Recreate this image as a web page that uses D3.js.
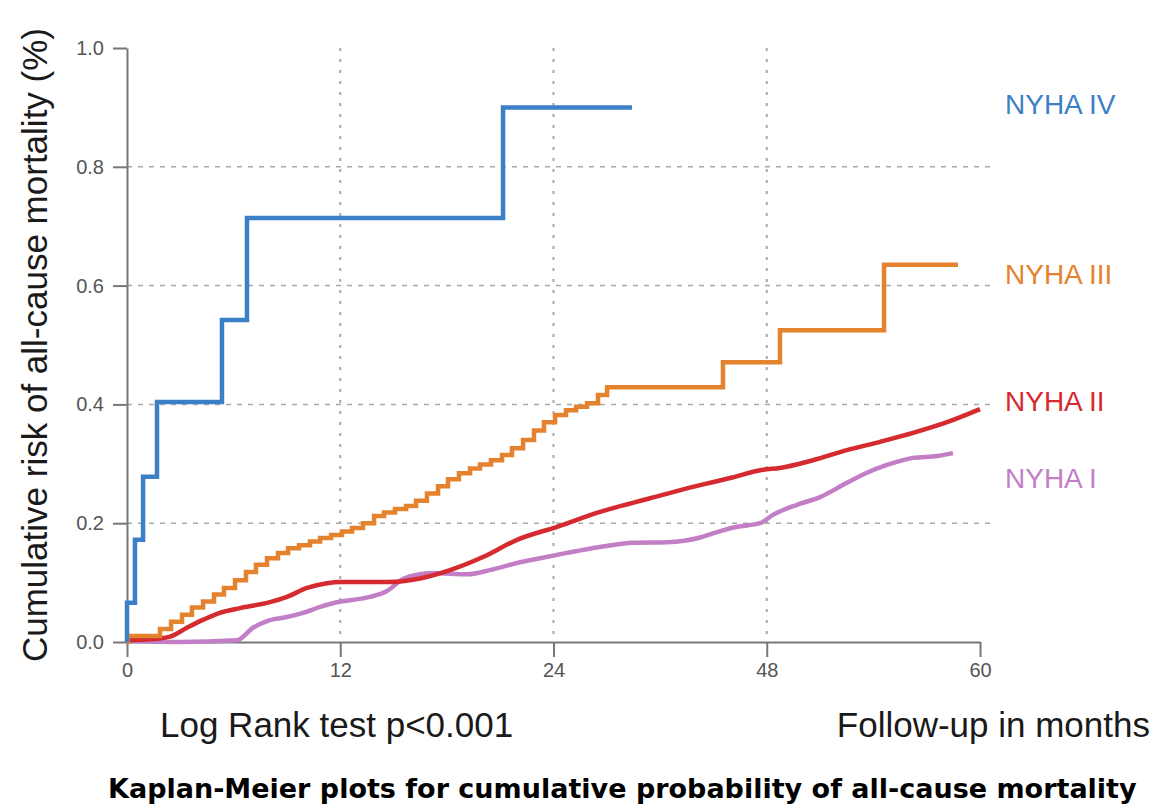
<!DOCTYPE html>
<html>
<head>
<meta charset="utf-8">
<script src="https://cdn.jsdelivr.net/npm/d3@7"></script>
<style>
  body { margin: 0; background: #fff; }
  svg { font-family: "Liberation Sans", Arial, sans-serif; }
</style>
</head>
<body>
<div id="chart"></div>
<script>
// x positions are in axis units: the five ticks sit evenly at 0,15,30,45,60
// and carry the printed labels 0,12,24,48,60 of the original figure
const xTickValues = [0, 15, 30, 45, 60]
const xTickLabels = ["0", "12", "24", "48", "60"]
const yTickValues = [0, 0.2, 0.4, 0.6, 0.8, 1.0]
const gridY = [0.2, 0.4, 0.6, 0.8]
const gridX = [15, 30, 45]

const seriesNames = ["NYHA IV", "NYHA III", "NYHA II", "NYHA I"]
const seriesColors = ["#3b80c6", "#e5822d", "#d52a2f", "#c27fc6"]

// NYHA IV: step function
const nyha4Time = [0, 0, 0.56, 1.13, 2.11, 6.68, 8.44, 26.45, 35.52]
const nyha4Risk = [0, 0.066, 0.172, 0.278, 0.404, 0.542, 0.714, 0.9, 0.9]

// NYHA III: step function with many small steps
const nyha3Time = [0, 0.05, 2.32, 3.10, 3.87, 4.57, 5.35, 6.12, 6.82, 7.60, 8.37, 9.07, 9.85,
  10.62, 11.33, 12.10, 12.87, 13.58, 14.35, 15.12, 15.83, 16.60, 17.38, 18.08, 18.85,
  19.63, 20.33, 21.10, 21.88, 22.58, 23.35, 24.13, 24.83, 25.60, 26.38, 27.08, 27.86,
  28.63, 29.33, 30.11, 30.88, 31.59, 32.36, 33.13, 33.77, 41.92, 45.93, 53.25, 58.45]
const nyha3Risk = [0, 0.010, 0.022, 0.034, 0.046, 0.058, 0.068, 0.080, 0.091, 0.104, 0.118, 0.130, 0.141,
  0.150, 0.158, 0.163, 0.169, 0.175, 0.180, 0.186, 0.192, 0.200, 0.212, 0.218, 0.224,
  0.229, 0.238, 0.250, 0.262, 0.274, 0.284, 0.292, 0.299, 0.306, 0.315, 0.326, 0.340,
  0.356, 0.370, 0.382, 0.390, 0.396, 0.402, 0.416, 0.429, 0.471, 0.525, 0.635, 0.635]

// NYHA II: smooth
const nyha2Time = [0, 2.32, 3.02, 4.22, 5.42, 6.54, 7.95, 10.06, 11.25, 12.66, 14.07, 14.98,
  18.29, 20.61, 22.72, 25.04, 27.43, 30.25, 33.27, 36.79, 40.31, 42.42, 44.74, 45.93,
  48.25, 50.64, 52.97, 55.29, 57.68, 60]
const nyha2Risk = [0.003, 0.006, 0.009, 0.024, 0.038, 0.049, 0.057, 0.067, 0.076, 0.091, 0.099, 0.101,
  0.101, 0.107, 0.121, 0.143, 0.172, 0.194, 0.219, 0.242, 0.264, 0.276, 0.290, 0.293,
  0.306, 0.323, 0.337, 0.352, 0.370, 0.392]

// NYHA I: smooth
const nyha1Time = [0, 3.73, 7.74, 8.86, 10.06, 11.25, 12.38, 13.58, 14.77, 15.90, 17.09, 18.29,
  19.41, 20.61, 21.52, 23.92, 25.53, 27.43, 29.05, 30.95, 33.27, 35.59, 37.98, 40.31,
  41.22, 42.91, 44.53, 45.44, 47.13, 48.75, 50.64, 52.05, 53.46, 55.29, 56.98, 58.10]
const nyha1Risk = [0.002, 0.000, 0.003, 0.024, 0.037, 0.042, 0.049, 0.059, 0.067, 0.071, 0.076, 0.086,
  0.106, 0.114, 0.116, 0.114, 0.121, 0.133, 0.141, 0.150, 0.160, 0.167, 0.168, 0.176,
  0.183, 0.194, 0.200, 0.214, 0.231, 0.244, 0.268, 0.285, 0.298, 0.310, 0.313, 0.318]

const labelRisk = [0.905, 0.62, 0.405, 0.276]

drawChart("#chart")

function drawChart(id){
  const canvas = { width: 1155, height: 806, left: 127, right: 980, top: 48, bottom: 642 }
  const svg = d3.select(id).append("svg")
    .attr("width", canvas.width).attr("height", canvas.height)

  const x = d3.scaleLinear().domain([0, 60]).range([canvas.left, canvas.right])
  const y = d3.scaleLinear().domain([0, 1]).range([canvas.bottom, canvas.top])

  addGrid(svg, x, y)
  addAxes(svg, x, y)
  addCurves(svg, x, y)
  addTexts(svg, x, y, canvas)
}

function addGrid(svg, x, y){
  svg.append("g").selectAll("line").data(gridY).enter().append("line")
    .attr("x1", x(0)).attr("x2", x(60) + 10)
    .attr("y1", d => y(d)).attr("y2", d => y(d))
    .attr("stroke", "#a8a8a8").attr("stroke-width", 1.5).attr("stroke-dasharray", "5,6")

  svg.append("g").selectAll("line").data(gridX).enter().append("line")
    .attr("x1", d => x(d)).attr("x2", d => x(d))
    .attr("y1", y(1)).attr("y2", y(0))
    .attr("stroke", "#a8a8a8").attr("stroke-width", 2).attr("stroke-dasharray", "3,8")
}

function addAxes(svg, x, y){
  const xAxis = d3.axisBottom(x).tickValues(xTickValues)
    .tickFormat((d, i) => xTickLabels[i]).tickSize(15).tickSizeOuter(0).tickPadding(6)
  const gx = svg.append("g").attr("transform", `translate(0,${y(0)})`).call(xAxis)

  const yAxis = d3.axisLeft(y).tickValues(yTickValues)
    .tickFormat(d3.format(".1f")).tickSize(14).tickSizeOuter(0).tickPadding(9)
  const gy = svg.append("g").attr("transform", `translate(${x(0)},0)`).call(yAxis)

  for (const g of [gx, gy]) {
    g.select(".domain").attr("stroke", "#777").attr("stroke-width", 2)
    g.selectAll(".tick line").attr("stroke", "#777").attr("stroke-width", 2)
    g.selectAll(".tick text").attr("fill", "#555").attr("font-size", "20px")
      .attr("font-family", "Liberation Sans, Arial, sans-serif")
  }
}

function addCurves(svg, x, y){
  const times = [nyha4Time, nyha3Time, nyha2Time, nyha1Time]
  const risks = [nyha4Risk, nyha3Risk, nyha2Risk, nyha1Risk]
  const curves = [d3.curveStepAfter, d3.curveStepAfter, d3.curveMonotoneX, d3.curveMonotoneX]

  // draw NYHA I first so the others sit on top
  for (let k = 3; k >= 0; k--) {
    const pts = times[k].map((t, i) => [t, risks[k][i]])
    const line = d3.line().x(d => x(d[0])).y(d => y(d[1])).curve(curves[k])
    svg.append("path").datum(pts)
      .attr("fill", "none").attr("stroke", seriesColors[k])
      .attr("stroke-width", 4.5).attr("stroke-linejoin", "miter")
      .attr("d", line)
  }
}

function addTexts(svg, x, y, canvas){
  svg.selectAll(".series-label").data(seriesNames).enter().append("text")
    .attr("class", "series-label")
    .attr("x", 1005).attr("y", (d, i) => y(labelRisk[i]) + 10)
    .attr("font-size", "28px").attr("fill", (d, i) => seriesColors[i])
    .text(d => d)

  svg.append("text")
    .attr("transform", `translate(47,${(canvas.top + canvas.bottom) / 2}) rotate(-90)`)
    .attr("text-anchor", "middle").attr("font-size", "35px").attr("fill", "#1a1a1a")
    .text("Cumulative risk of all-cause mortality (%)")

  svg.append("text").attr("x", 160).attr("y", 737)
    .attr("font-size", "35px").attr("fill", "#1a1a1a")
    .text("Log Rank test p<0.001")

  svg.append("text").attr("x", 1150).attr("y", 737).attr("text-anchor", "end")
    .attr("font-size", "35px").attr("fill", "#1a1a1a")
    .text("Follow-up in months")

  svg.append("text").attr("x", 108).attr("y", 798)
    .attr("font-family", "DejaVu Sans, Verdana, sans-serif")
    .attr("font-weight", "bold").attr("font-size", "27px").attr("fill", "#000")
    .text("Kaplan-Meier plots for cumulative probability of all-cause mortality")
}
</script>
</body>
</html>
